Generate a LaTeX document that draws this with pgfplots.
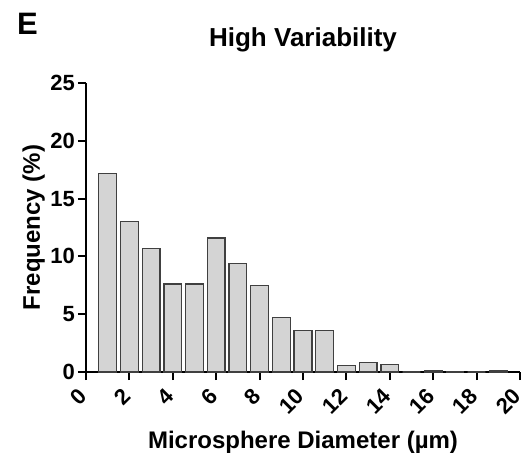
\documentclass[border=0pt]{standalone}
\usepackage{pgfplots}
\pgfplotsset{compat=1.18}
\usepackage{fontspec}
\setmainfont{Liberation Sans}
\definecolor{barfill}{HTML}{D4D4D4}
\definecolor{baredge}{HTML}{404040}
\newcommand{\tickfont}{\fontsize{22bp}{24bp}\selectfont\bfseries}
\begin{document}
\begin{tikzpicture}
\path[use as bounding box] (-86bp,-88bp) rectangle (440bp,372bp);
\begin{axis}[
  at={(0,0)}, anchor=south west,
  scale only axis,
  width=434bp, height=289bp,
  xmin=0, xmax=20, ymin=0, ymax=25,
  axis x line*=bottom, axis y line*=left,
  axis line style={line width=2bp, black},
  xtick={0,2,...,20}, ytick={0,5,...,25},
  tick align=outside,
  major tick length=8bp,
  every tick/.style={line width=2bp, black},
  /pgf/number format/assume math mode=true,
  xticklabel style={font=\tickfont, yshift=-12bp, xshift=-2bp, rotate=45, anchor=east, inner sep=1bp},
  yticklabel style={font=\tickfont, inner sep=3bp},
  ybar, bar width=0.82,
  clip=false,
]
\addplot[fill=barfill, draw=baredge, line width=1.3bp] coordinates {
(1,17.2) (2,13.0) (3,10.7) (4,7.6) (5,7.6) (6,11.6) (7,9.4) (8,7.5)
(9,4.7) (10,3.6) (11,3.6) (12,0.55) (13,0.85) (14,0.65) (15,0)
(16,0.12) (17,0) (18,0) (19,0.12)
};
\end{axis}
\node[anchor=base, font=\fontsize{26bp}{28bp}\selectfont\bfseries] at (217bp,325bp) {High Variability};
\node[anchor=base, font=\fontsize{24bp}{26bp}\selectfont\bfseries] at (217bp,-76bp) {Microsphere Diameter (µm)};
\node[anchor=base, rotate=90, font=\fontsize{24bp}{26bp}\selectfont\bfseries] at (-46bp,144.5bp) {Frequency (\%)};
\node[anchor=base west, inner sep=0pt, font=\fontsize{31bp}{33bp}\selectfont\bfseries] at (-69bp,337bp) {E};
\end{tikzpicture}
\end{document}
